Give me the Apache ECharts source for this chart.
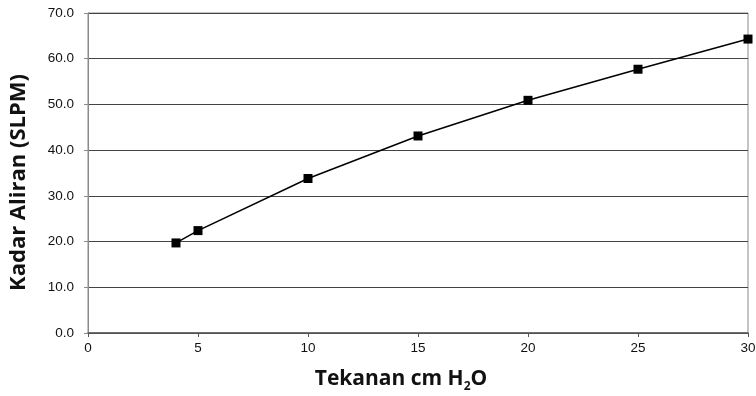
<!DOCTYPE html>
<html>
<head>
<meta charset="utf-8">
<script src="https://cdn.jsdelivr.net/npm/echarts@6/dist/echarts.min.js"></script>
<style>html,body{margin:0;padding:0;background:#fff}#c{width:756px;height:396px}</style>
</head>
<body>
<div id="c"></div>
<script>
const pressure = [4, 5, 10, 15, 20, 25, 30];
const flowRate = [19.7, 22.4, 33.8, 43.1, 50.9, 57.7, 64.3];
const xTicks = [0, 5, 10, 15, 20, 25, 30];
const yTicks = [0, 10, 20, 30, 40, 50, 60, 70];

const chart = echarts.init(document.getElementById('c'));
chart.setOption({
  animation: false,
  backgroundColor: '#fff',
  grid: { left: 88, right: 8, top: 13, bottom: 63, show: true, borderColor: '#8a8a8a', borderWidth: 1, containLabel: false, outerBoundsMode: 'none' },
  xAxis: {
    type: 'value', min: xTicks[0], max: xTicks[xTicks.length - 1], interval: 5,
    name: '{a|Tekanan cm H}{b|2}{a|O}',
    nameLocation: 'middle', nameGap: 32,
    nameTextStyle: {
      padding: [0, 34, 0, 0],
      rich: {
        a: { fontFamily: 'Open Sans', fontWeight: 'bold', fontSize: 21, color: '#111', lineHeight: 28, verticalAlign: 'middle' },
        b: { fontFamily: 'Open Sans', fontWeight: 'bold', fontSize: 12, color: '#111', lineHeight: 4, verticalAlign: 'bottom' }
      }
    },
    axisLine: { show: true, lineStyle: { color: '#555', width: 1.5 } },
    axisTick: { show: true, inside: false, length: 4, lineStyle: { color: '#555' } },
    axisLabel: { fontFamily: 'Liberation Sans', fontSize: 13.5, color: '#111', margin: 8 },
    splitLine: { show: false }
  },
  yAxis: {
    type: 'value', min: yTicks[0], max: yTicks[yTicks.length - 1], interval: 10,
    name: 'Kadar Aliran (SLPM)',
    nameLocation: 'middle', nameGap: 58, nameRotate: 90,
    nameTextStyle: { fontFamily: 'Open Sans', fontWeight: 'bold', fontSize: 22, color: '#111', padding: [0, 19, 0, 0] },
    axisLine: { show: true, lineStyle: { color: '#8a8a8a', width: 1 } },
    axisTick: { show: true, inside: false, length: 4, lineStyle: { color: '#8a8a8a' } },
    axisLabel: { fontFamily: 'Liberation Sans', fontSize: 13.5, color: '#111', margin: 14, formatter: v => v.toFixed(1) },
    splitLine: { show: true, lineStyle: { color: '#444', width: 1 } }
  },
  series: [{
    type: 'line',
    data: pressure.map((p, i) => [p, flowRate[i]]),
    symbol: 'rect', symbolSize: 9,
    itemStyle: { color: '#000' },
    lineStyle: { color: '#000', width: 1.5 },
    smooth: false
  }]
});
</script>
</body>
</html>
